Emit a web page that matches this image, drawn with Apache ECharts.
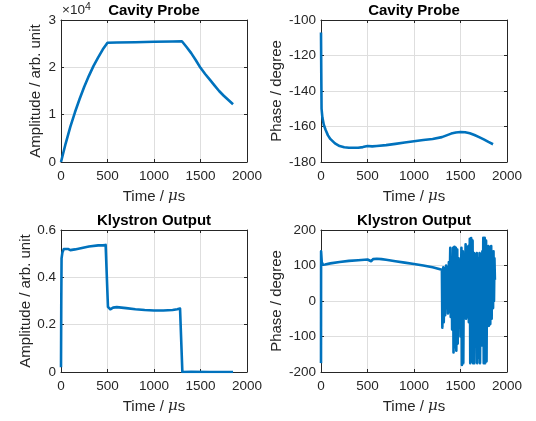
<!DOCTYPE html>
<html>
<head>
<meta charset="utf-8">
<script src="https://cdn.jsdelivr.net/npm/echarts@6/dist/echarts.min.js"></script>
<style>
html,body{margin:0;padding:0;background:#fff;}
#c{width:536px;height:421px;}
</style>
</head>
<body>
<div id="c"></div>
<script>
// ---- Data ----
// Cavity probe amplitude (arb. unit)
var cavAmpTime = [0, 50, 100, 150, 200, 250, 300, 350, 400, 450, 500, 600, 800, 1000, 1200, 1300, 1350, 1400, 1450, 1500, 1550, 1600, 1650, 1700, 1750, 1800, 1850];
var cavAmpVal  = [0, 3900, 7400, 10500, 13300, 15900, 18200, 20300, 22100, 23800, 25200, 25250, 25300, 25400, 25450, 25500, 24300, 23000, 21500, 19900, 18600, 17400, 16200, 15000, 14000, 13100, 12200];

// Cavity probe phase (degree)
var cavPhTime = [0, 3, 6, 15, 30, 50, 75, 100, 150, 200, 250, 300, 350, 400, 450, 500, 550, 600, 700, 800, 900, 1000, 1100, 1200, 1300, 1350, 1400, 1450, 1500, 1550, 1600, 1650, 1700, 1750, 1800, 1850];
var cavPhVal  = [-107, -130, -150, -155, -159, -162, -165, -167, -169.5, -171, -171.7, -172, -172, -172, -171.6, -171, -171.2, -171, -170.5, -169.8, -169, -168.3, -167.6, -167, -166, -165, -164, -163.4, -163.1, -163.2, -163.8, -164.8, -166, -167.3, -168.7, -170];

// Klystron output amplitude (arb. unit)
var klyAmpTime = [0, 3, 6, 15, 30, 50, 75, 100, 150, 200, 300, 400, 450, 480, 500, 505, 530, 560, 600, 700, 800, 900, 1000, 1100, 1200, 1250, 1280, 1300, 1305, 1400, 1600, 1850];
var klyAmpVal  = [0.02, 0.3, 0.48, 0.505, 0.52, 0.525, 0.52, 0.515, 0.518, 0.522, 0.53, 0.535, 0.535, 0.537, 0.535, 0.275, 0.265, 0.272, 0.274, 0.27, 0.265, 0.262, 0.26, 0.26, 0.262, 0.265, 0.268, 0.265, 0.0, 0.001, 0.0, 0.0];

// Klystron output phase (degree): smooth part, then the noisy part after the pulse ends
var klyPhTime = [0, 1, 3, 8, 20, 45, 60, 100, 200, 300, 400, 500, 520, 540, 560, 600, 650, 700, 800, 900, 1000, 1100, 1200, 1300,
  1305, 1310, 1315, 1320, 1325, 1330, 1335, 1340, 1345, 1350, 1355, 1360, 1365, 1370, 1375, 1380, 1385, 1390, 1395, 1400,
  1405, 1410, 1415, 1420, 1425, 1430, 1435, 1440, 1445, 1450, 1455, 1460, 1465, 1470, 1475, 1480, 1485, 1490, 1495, 1500,
  1505, 1510, 1515, 1520, 1525, 1530, 1535, 1540, 1545, 1550, 1555, 1560, 1565, 1570, 1575, 1580, 1585, 1590, 1595, 1600,
  1605, 1610, 1615, 1620, 1625, 1630, 1635, 1640, 1645, 1650, 1655, 1660, 1665, 1670, 1675, 1680, 1685, 1690, 1695, 1700,
  1705, 1710, 1715, 1720, 1725, 1730, 1735, 1740, 1745, 1750, 1755, 1760, 1765, 1770, 1775, 1780, 1785, 1790, 1795, 1800,
  1805, 1810, 1815, 1820, 1825, 1830, 1835, 1840, 1845, 1850, 1855, 1860, 1865, 1870];
var klyPhVal  = [-175, 140, 135, 110, 102, 103, 104, 106, 110, 113, 115, 117, 119, 112, 118, 119, 118, 116, 112, 108, 104, 100, 95, 88,
  -75, 70, 95, -60, 30, 90, -40, 60, 100, -20, 40, 95, -35, 20, 110, -30, 70, 150, -45, 50,
  105, -80, 60, 150, -145, 30, 153, -130, 80, 150, -140, 20, 145, -120, 60, 120, -60, 40, 110, -100,
  70, 150, -180, 40, 140, -175, 60, 130, -40, 90, 160, -50, 30, 150, -45, 80, 155, -60, 40, 175,
  -175, 60, 177, -170, 20, 170, -175, 90, 135, -175, 40, 130, -120, 60, 135, -175, 30, 120, -160, 70,
  135, -175, 50, 130, -125, 20, 140, -60, 178, -175, 60, 178, -175, 30, 170, -170, 80, 140, -60, 155,
  -70, 60, 150, -65, 40, 155, -50, 90, 130, -20, 140, 0, 120, 60];

// Axis ticks
var timeTicks = [0, 500, 1000, 1500, 2000];
var cavAmpTicks = [0, 10000, 20000, 30000];
var cavPhTicks = [-180, -160, -140, -120, -100];
var klyAmpTicks = [0, 0.2, 0.4, 0.6];
var klyPhTicks = [-200, -100, 0, 100, 200];

var titles = ['Cavity Probe', 'Cavity Probe', 'Klystron Output', 'Klystron Output'];
var yNames = ['Amplitude / arb. unit', 'Phase / degree', 'Amplitude / arb. unit', 'Phase / degree'];

function pairs(t, v) { return t.map(function (x, i) { return [x, v[i]]; }); }

var FONT = 'Liberation Sans, Arial, Helvetica, sans-serif';
var AX = '#262626';
var GRIDC = '#dedede';
var BLUE = '#0072BD';

var grids = [
  { left: 61, top: 20, width: 186, height: 142 },
  { left: 321, top: 20, width: 186, height: 142 },
  { left: 61, top: 230, width: 186, height: 142 },
  { left: 321, top: 230, width: 186, height: 142 }
];
var yTickSets = [cavAmpTicks, cavPhTicks, klyAmpTicks, klyPhTicks];
var yFmt = [function (v) { return String(Math.round(v / 10000)); }, function (v) { return String(v); }, function (v) { return v === 0 ? '0' : String(+v.toFixed(1)); }, function (v) { return String(v); }];
var yNameGap = [18, 37, 18, 37];
var seriesData = [pairs(cavAmpTime, cavAmpVal), pairs(cavPhTime, cavPhVal), pairs(klyAmpTime, klyAmpVal), pairs(klyPhTime, klyPhVal)];

var xAxes = [], yAxes = [], series = [], titleOpts = [];
for (var g = 0; g < 4; g++) {
  var yt = yTickSets[g];
  var yMin = yt[0], yMax = yt[yt.length - 1], yInt = yt[1] - yt[0];
  // primary x (bottom)
  xAxes.push({
    gridIndex: g, type: 'value', position: 'bottom', min: timeTicks[0], max: timeTicks[timeTicks.length - 1], interval: timeTicks[1] - timeTicks[0],
    name: 'Time / {mu|μ}s', nameLocation: 'middle', nameGap: 27,
    nameTextStyle: { fontFamily: FONT, fontSize: 15, color: AX, rich: { mu: { fontFamily: 'DejaVu Serif, serif', fontStyle: 'italic', fontSize: 15, color: AX } } },
    axisLine: { show: true, onZero: false, lineStyle: { color: AX, width: 1 } },
    axisTick: { show: true, inside: true, length: 3, lineStyle: { color: AX } },
    axisLabel: { fontFamily: FONT, fontSize: 13.5, color: AX, margin: 7, formatter: function (v) { return String(v); } },
    splitLine: { show: true, lineStyle: { color: GRIDC, width: 1 } }
  });
  // mirror x (top)
  xAxes.push({
    gridIndex: g, type: 'value', position: 'top', min: timeTicks[0], max: timeTicks[timeTicks.length - 1], interval: timeTicks[1] - timeTicks[0],
    axisLine: { show: true, onZero: false, lineStyle: { color: AX, width: 1 } },
    axisTick: { show: true, inside: true, length: 3, lineStyle: { color: AX } },
    axisLabel: { show: false }, splitLine: { show: false }
  });
  yAxes.push({
    gridIndex: g, type: 'value', position: 'left', min: yMin, max: yMax, interval: yInt,
    name: yNames[g], nameLocation: 'middle', nameGap: yNameGap[g], nameRotate: 90,
    nameTextStyle: { fontFamily: FONT, fontSize: 15, color: AX },
    axisLine: { show: true, onZero: false, lineStyle: { color: AX, width: 1 } },
    axisTick: { show: true, inside: true, length: 3, lineStyle: { color: AX } },
    axisLabel: { fontFamily: FONT, fontSize: 13.5, color: AX, margin: 5, formatter: yFmt[g] },
    splitLine: { show: true, lineStyle: { color: GRIDC, width: 1 } }
  });
  yAxes.push({
    gridIndex: g, type: 'value', position: 'right', min: yMin, max: yMax, interval: yInt,
    axisLine: { show: true, onZero: false, lineStyle: { color: AX, width: 1 } },
    axisTick: { show: true, inside: true, length: 3, lineStyle: { color: AX } },
    axisLabel: { show: false }, splitLine: { show: false }
  });
  series.push({
    type: 'line', xAxisIndex: g * 2, yAxisIndex: g * 2, data: seriesData[g],
    showSymbol: false, symbol: 'none', clip: true, animation: false,
    lineStyle: { color: BLUE, width: 2.6, join: 'round' }
  });
  titleOpts.push({
    text: titles[g], left: grids[g].left + grids[g].width / 2, textAlign: 'center',
    top: grids[g].top - 17, padding: 0,
    textStyle: { fontFamily: FONT, fontSize: 15, fontWeight: 'bold', color: '#000' }
  });
}

var chart = echarts.init(document.getElementById('c'), null, { renderer: 'canvas' });
chart.setOption({
  animation: false,
  backgroundColor: '#fff',
  title: titleOpts,
  grid: grids,
  xAxis: xAxes,
  yAxis: yAxes,
  series: series,
  graphic: [{
    type: 'text', left: 62, top: 2,
    style: {
      text: '×10{s|4}', fontFamily: FONT, fontSize: 13.5, fill: AX,
      rich: { s: { fontFamily: FONT, fontSize: 10.5, fill: AX, verticalAlign: 'top', padding: [0, 0, 6, 0] } }
    }
  }]
});
</script>
</body>
</html>
